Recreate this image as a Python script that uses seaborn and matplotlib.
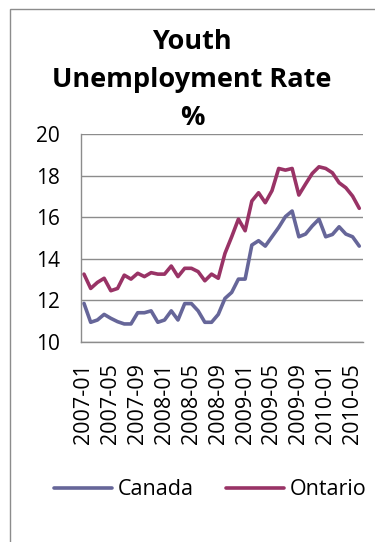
import matplotlib
matplotlib.use("Agg")
import matplotlib.pyplot as plt
import seaborn as sns
import pandas as pd
from matplotlib.patches import Rectangle
from matplotlib.lines import Line2D

months = ["2007-01","2007-02","2007-03","2007-04","2007-05","2007-06","2007-07","2007-08","2007-09","2007-10","2007-11","2007-12",
          "2008-01","2008-02","2008-03","2008-04","2008-05","2008-06","2008-07","2008-08","2008-09","2008-10","2008-11","2008-12",
          "2009-01","2009-02","2009-03","2009-04","2009-05","2009-06","2009-07","2009-08","2009-09","2009-10","2009-11","2009-12",
          "2010-01","2010-02","2010-03","2010-04","2010-05","2010-06"]
canada = [11.86,10.95,11.06,11.33,11.14,10.98,10.87,10.87,11.41,11.41,11.5,10.95,
          11.06,11.5,11.06,11.85,11.85,11.5,10.95,10.95,11.33,12.1,12.39,13.03,
          13.03,14.67,14.88,14.62,15.07,15.52,16.04,16.31,15.07,15.2,15.59,15.92,
          15.07,15.18,15.55,15.2,15.07,14.62]
ontario = [13.27,12.58,12.87,13.07,12.47,12.58,13.22,13.03,13.31,13.15,13.34,13.27,
           13.27,13.66,13.15,13.55,13.55,13.39,12.95,13.27,13.07,14.27,15.07,15.92,
           15.36,16.79,17.19,16.71,17.29,18.36,18.28,18.36,17.08,17.61,18.12,18.44,
           18.36,18.15,17.67,17.43,17.03,16.44]
series_names = ["Canada", "Ontario"]
colors = ["#666699", "#993366"]
yticks = [10, 12, 14, 16, 18, 20]

df = pd.DataFrame({"month": months * 2,
                   "idx": list(range(len(months))) * 2,
                   "rate": canada + ontario,
                   "series": [series_names[0]] * len(months) + [series_names[1]] * len(months)})

sns.set_style("white")
plt.rcParams["font.family"] = ["Open Sans", "DejaVu Sans"]
plt.rcParams["text.color"] = "black"
plt.rcParams["xtick.color"] = "black"
plt.rcParams["ytick.color"] = "black"

fig = plt.figure(figsize=(3.75, 5.42), dpi=100)
ax = fig.add_axes([0.215, 0.369, 0.752, 0.383])

sns.lineplot(data=df, x="idx", y="rate", hue="series", palette=colors,
             linewidth=2.6, ax=ax, legend=False)

ax.set_xlim(-0.5, len(months) - 0.5)
ax.set_ylim(10, 20)
ax.set_yticks(yticks)
ax.set_yticklabels([str(v) for v in yticks], fontsize=15)
tick_pos = list(range(0, len(months), 4))
ax.set_xticks(tick_pos)
ax.set_xticklabels([months[i] for i in tick_pos], rotation=90, fontsize=15.5)
ax.tick_params(axis="y", length=0, pad=15)
ax.tick_params(axis="x", length=0, pad=15)
ax.set_xlabel("")
ax.set_ylabel("")
ax.yaxis.grid(True, color="#8c8c8c", linewidth=1)
ax.set_axisbelow(True)
for s in ["top", "right"]:
    ax.spines[s].set_visible(False)
for s in ["left", "bottom"]:
    ax.spines[s].set_color("#8c8c8c")
    ax.spines[s].set_linewidth(1)

fig.text(0.512, 0.852, "Youth\nUnemployment Rate\n%", ha="center", va="center",
         fontsize=19.5, fontweight="bold", linespacing=1.6)

handles = [Line2D([], [], color=c, linewidth=2.6) for c in colors]
fig.legend(handles, series_names, loc="center", bbox_to_anchor=(0.56, 0.096), ncol=2,
           frameon=False, fontsize=15.5, handlelength=2.7, handletextpad=0.25, columnspacing=1.5)

fig.patches.append(Rectangle((0.027, -0.1), 1.2, 1.083, transform=fig.transFigure,
                             fill=False, edgecolor="#8c8c8c", linewidth=1))

fig.savefig("out.png", dpi=100)
